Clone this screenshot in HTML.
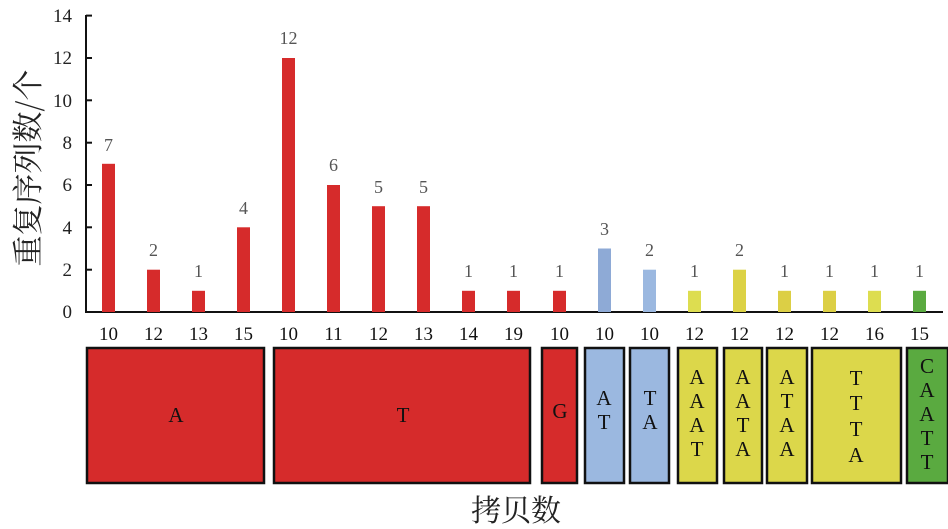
<!DOCTYPE html>
<html><head><meta charset="utf-8"><style>
body{margin:0;background:#fff}
svg{display:block}
</style></head><body>
<svg width="948" height="529" xmlns="http://www.w3.org/2000/svg" font-family="Liberation Serif, serif">
<line x1="86" y1="15" x2="86" y2="313" stroke="#111" stroke-width="2"/>
<line x1="85" y1="312" x2="943" y2="312" stroke="#111" stroke-width="2"/>
<g stroke="#111" stroke-width="2">
<line x1="86" y1="15.6" x2="92" y2="15.6"/><line x1="86" y1="58" x2="92" y2="58"/><line x1="86" y1="100.3" x2="92" y2="100.3"/><line x1="86" y1="142.7" x2="92" y2="142.7"/><line x1="86" y1="185" x2="92" y2="185"/><line x1="86" y1="227.3" x2="92" y2="227.3"/><line x1="86" y1="269.7" x2="92" y2="269.7"/>
</g>
<g font-size="19" fill="#222" text-anchor="end">
<text x="72" y="22">14</text><text x="72" y="64">12</text><text x="72" y="107">10</text><text x="72" y="149">8</text><text x="72" y="191">6</text><text x="72" y="234">4</text><text x="72" y="276">2</text><text x="72" y="318">0</text>
</g>
<text transform="translate(39,168) rotate(-90)" font-family="Noto Serif CJK SC, serif" font-size="31" fill="#222" text-anchor="middle">重复序列数/个</text>
<g font-size="18" fill="#555" text-anchor="middle">
<rect x="102" y="163.8" width="13" height="148.2" fill="#d62b2b"/><text x="108.5" y="151">7</text>
<rect x="147" y="269.7" width="13" height="42.3" fill="#d62b2b"/><text x="153.5" y="256">2</text>
<rect x="192" y="290.8" width="13" height="21.2" fill="#d62b2b"/><text x="198.5" y="277">1</text>
<rect x="237" y="227.3" width="13" height="84.7" fill="#d62b2b"/><text x="243.5" y="214">4</text>
<rect x="282" y="58" width="13" height="254" fill="#d62b2b"/><text x="288.5" y="44">12</text>
<rect x="327" y="185" width="13" height="127" fill="#d62b2b"/><text x="333.5" y="171">6</text>
<rect x="372" y="206.2" width="13" height="105.8" fill="#d62b2b"/><text x="378.5" y="193">5</text>
<rect x="417" y="206.2" width="13" height="105.8" fill="#d62b2b"/><text x="423.5" y="193">5</text>
<rect x="462" y="290.8" width="13" height="21.2" fill="#d62b2b"/><text x="468.5" y="277">1</text>
<rect x="507" y="290.8" width="13" height="21.2" fill="#d62b2b"/><text x="513.5" y="277">1</text>
<rect x="553" y="290.8" width="13" height="21.2" fill="#d62b2b"/><text x="559.5" y="277">1</text>
<rect x="598" y="248.5" width="13" height="63.5" fill="#8eaad6"/><text x="604.5" y="235">3</text>
<rect x="643" y="269.7" width="13" height="42.3" fill="#9bb8e0"/><text x="649.5" y="256">2</text>
<rect x="688" y="290.8" width="13" height="21.2" fill="#dddd50"/><text x="694.5" y="277">1</text>
<rect x="733" y="269.7" width="13" height="42.3" fill="#dcd245"/><text x="739.5" y="256">2</text>
<rect x="778" y="290.8" width="13" height="21.2" fill="#dccf45"/><text x="784.5" y="277">1</text>
<rect x="823" y="290.8" width="13" height="21.2" fill="#dccf45"/><text x="829.5" y="277">1</text>
<rect x="868" y="290.8" width="13" height="21.2" fill="#dddd50"/><text x="874.5" y="277">1</text>
<rect x="913" y="290.8" width="13" height="21.2" fill="#5aaa40"/><text x="919.5" y="277">1</text>
</g>
<g font-size="19" fill="#111" text-anchor="middle">
<text x="108.5" y="340">10</text><text x="153.5" y="340">12</text><text x="198.5" y="340">13</text><text x="243.5" y="340">15</text><text x="288.5" y="340">10</text><text x="333.5" y="340">11</text><text x="378.5" y="340">12</text><text x="423.5" y="340">13</text><text x="468.5" y="340">14</text><text x="513.5" y="340">19</text><text x="559.5" y="340">10</text><text x="604.5" y="340">10</text><text x="649.5" y="340">10</text><text x="694.5" y="340">12</text><text x="739.5" y="340">12</text><text x="784.5" y="340">12</text><text x="829.5" y="340">12</text><text x="874.5" y="340">16</text><text x="919.5" y="340">15</text>
</g>
<g stroke="#111" stroke-width="2.5">
<rect x="87" y="348" width="177" height="135" fill="#d62b2b"/>
<rect x="274" y="348" width="256" height="135" fill="#d62b2b"/>
<rect x="542" y="348" width="35" height="135" fill="#d62b2b"/>
<rect x="585" y="348" width="39" height="135" fill="#9bb8e0"/>
<rect x="630" y="348" width="39" height="135" fill="#9bb8e0"/>
<rect x="678" y="348" width="39" height="135" fill="#dcd74a"/>
<rect x="724" y="348" width="38" height="135" fill="#dcd74a"/>
<rect x="767" y="348" width="40" height="135" fill="#dcd74a"/>
<rect x="812" y="348" width="89" height="135" fill="#dcd74a"/>
<rect x="907" y="348" width="41" height="135" fill="#5aaa40"/>
</g>
<g font-size="21" fill="#111" text-anchor="middle">
<text x="176" y="422">A</text><text x="403" y="422">T</text><text x="560" y="418">G</text>
<text x="604" y="405">A</text><text x="604" y="429">T</text>
<text x="650" y="405">T</text><text x="650" y="429">A</text>
<text x="697" y="384">A</text><text x="697" y="408">A</text><text x="697" y="432">A</text><text x="697" y="456">T</text>
<text x="743" y="384">A</text><text x="743" y="408">A</text><text x="743" y="432">T</text><text x="743" y="456">A</text>
<text x="787" y="384">A</text><text x="787" y="408">T</text><text x="787" y="432">A</text><text x="787" y="456">A</text>
<text x="856" y="385">T</text><text x="856" y="410">T</text><text x="856" y="436">T</text><text x="856" y="462">A</text>
<text x="927" y="373">C</text><text x="927" y="397">A</text><text x="927" y="421">A</text><text x="927" y="445">T</text><text x="927" y="469">T</text>
</g>
<text x="516" y="521" font-family="Noto Serif CJK SC, serif" font-size="30" fill="#222" text-anchor="middle">拷贝数</text>
</svg>
</body></html>
